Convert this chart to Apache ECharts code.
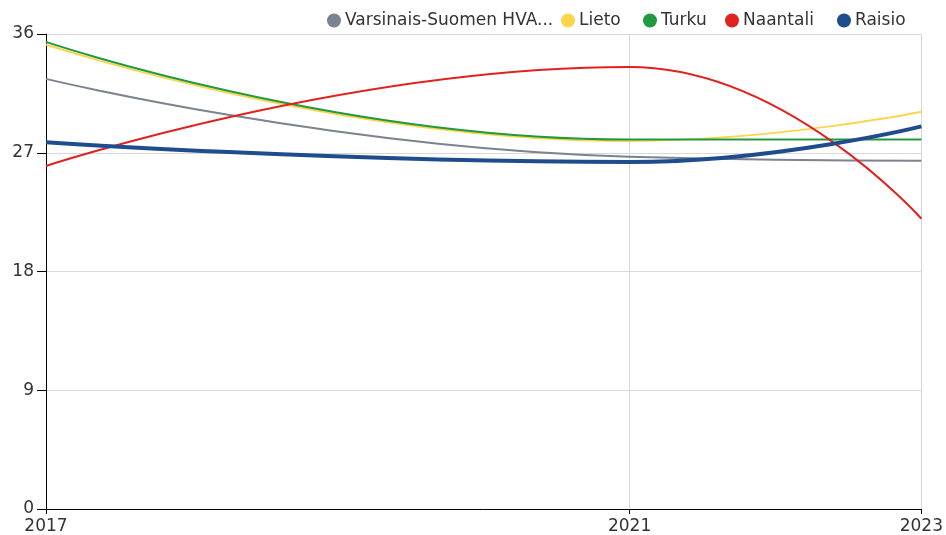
<!DOCTYPE html>
<html>
<head>
<meta charset="utf-8">
<script src="https://cdn.jsdelivr.net/npm/echarts@6/dist/echarts.min.js"></script>
<style>
  html, body { margin: 0; padding: 0; background: #fff; }
  #chart { width: 946px; height: 535px; }
</style>
</head>
<body>
<div id="chart"></div>
<script>
const years = [2017, 2021, 2023];
const yTicks = [0, 9, 18, 27, 36];
const seriesNames = ['Varsinais-Suomen HVA...', 'Lieto', 'Turku', 'Naantali', 'Raisio'];
const hvaValues = [32.6, 26.7, 26.4];
const lietoValues = [35.2, 27.9, 30.1];
const turkuValues = [35.4, 28.0, 28.0];
const naantaliValues = [26.0, 33.5, 22.0];
const raisioValues = [27.8, 26.3, 29.0];

const colors = ['#7b838e', '#fcd54c', '#22993f', '#e0211d', '#1f4c8c'];
const widths = [2, 2, 2, 2, 4];
const valueSets = [hvaValues, lietoValues, turkuValues, naantaliValues, raisioValues];
// left edge of each legend entry
const legendLeft = [327, 561, 643, 725, 837];

const FONT = 'DejaVu Sans';
const chart = echarts.init(document.getElementById('chart'));

const series = seriesNames.map((name, i) => ({
  name: name,
  type: 'line',
  smooth: true,
  showSymbol: false,
  symbol: 'circle',
  data: years.map((y, k) => [y, valueSets[i][k]]),
  lineStyle: { color: colors[i], width: widths[i] },
  itemStyle: { color: colors[i] },
  z: i === 4 ? 5 : 3
}));

// vertical guide lines at the labelled years
series[0].markLine = {
  silent: true,
  symbol: 'none',
  label: { show: false },
  lineStyle: { color: '#d6d6d6', type: 'solid', width: 1 },
  data: [{ xAxis: 2021 }, { xAxis: 2023 }],
  z: 1
};

const legends = seriesNames.map((name, i) => ({
  top: 12,
  left: legendLeft[i],
  padding: 0,
  icon: 'circle',
  itemWidth: 14,
  itemHeight: 14,
  itemGap: 0,
  textStyle: { fontSize: 17, color: '#333', fontFamily: FONT, padding: [0, 0, 0, -1] },
  data: [name]
}));

chart.setOption({
  animation: false,
  color: colors,
  grid: { left: 46, right: 23, top: 34, bottom: 26, containLabel: false },
  legend: legends,
  xAxis: {
    type: 'value',
    min: 2017,
    max: 2023,
    interval: 1,
    axisLine: { show: true, lineStyle: { color: '#000' } },
    axisTick: { show: true, length: 5, lineStyle: { color: '#000' }, customValues: years },
    axisLabel: {
      color: '#333', fontSize: 17, fontFamily: FONT, margin: 9,
      customValues: years,
      formatter: v => String(v)
    },
    splitLine: { show: false }
  },
  yAxis: {
    type: 'value',
    min: 0,
    max: 36,
    interval: 9,
    axisLine: { show: true, lineStyle: { color: '#000' } },
    axisTick: { show: true, length: 9, lineStyle: { color: '#000' } },
    axisLabel: { color: '#333', fontSize: 17, fontFamily: FONT, margin: 12 },
    splitLine: { show: true, lineStyle: { color: '#d9d9d9' } }
  },
  series: series
});
</script>
</body>
</html>
